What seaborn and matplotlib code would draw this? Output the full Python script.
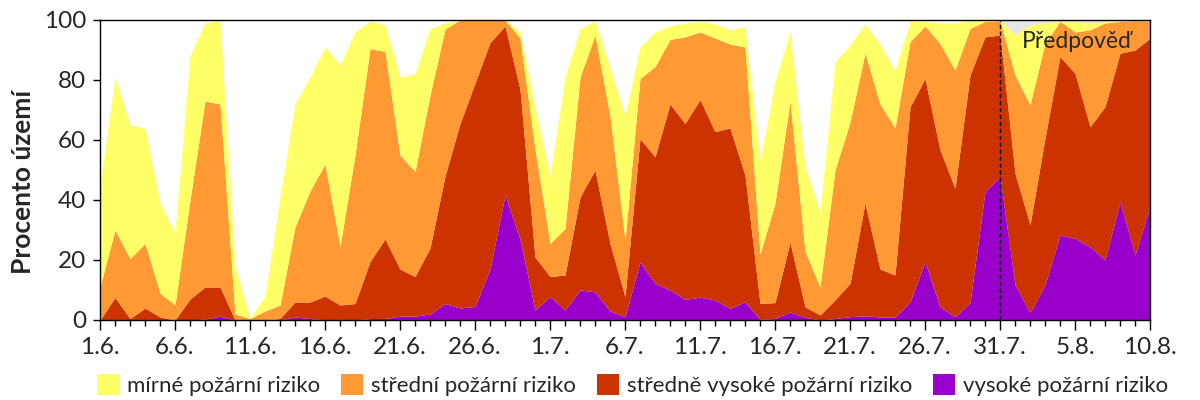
import numpy as np
import pandas as pd
import matplotlib
matplotlib.use("Agg")
import matplotlib.pyplot as plt
from matplotlib.patches import Patch
from matplotlib.ticker import MultipleLocator
import seaborn as sns

# Data: share of territory (%) per fire risk level, 1.6. - 10.8.
dates = pd.date_range("2015-06-01", "2015-08-10", freq="D")
tick_labels = ["1.6.", "6.6.", "11.6.", "16.6.", "21.6.", "26.6.", "1.7.", "6.7.",
               "11.7.", "16.7.", "21.7.", "26.7.", "31.7.", "5.8.", "10.8."]
forecast_start = "31.7."

vysoke = [0, 0, 0, 0, 0, 0, 0, 0.3, 1.3, 0,
          0, 0, 0, 1, 0.5, 0, 0.2, 0, 0.5, 0.5,
          1.3, 1.3, 2, 5.5, 4, 4.5, 17, 41.7, 27, 3.3,
          7.8, 3.3, 10, 9.4, 3, 1.1, 19.4, 12.2, 10, 6.9,
          7.6, 6.7, 3.9, 6.1, 0.2, 0.5, 2.7, 0.9, 0, 0.5,
          1.1, 1.4, 1, 0.9, 6.1, 19.4, 4.4, 1.1, 5.8, 42.8,
          47.8, 11.7, 2.4, 11.7, 28.3, 27.2, 24.4, 20, 39.4, 21.7,
          37.8]
stredne_vysoke = [0, 7.5, 0.5, 4, 1, 0, 7, 10.7, 9.7, 0,
                  0, 0, 0.5, 5, 5.5, 8, 4.8, 5.5, 19, 26.5,
                  15.7, 13.2, 22, 42.5, 61.5, 74.5, 75.5, 56.3, 50, 17.7,
                  6.7, 11.7, 31, 40.6, 22.5, 6.7, 41.1, 42.2, 62, 58.6,
                  65.9, 56.1, 60.1, 42.2, 5.3, 5.3, 23.3, 3.5, 1.7, 6.2,
                  11.1, 37.6, 16, 14.1, 64.9, 61.1, 52.3, 42.8, 75.9, 51.6,
                  47.2, 37.2, 29.3, 48.9, 59.5, 55, 40, 51.1, 49.5, 68.3,
                  56.1]
stredni = [11, 22.5, 20, 21.5, 8, 5, 33, 62, 61, 2,
           0.5, 3, 4.5, 25, 37, 44, 19.5, 49.5, 71, 62.5,
           38, 35, 51, 49, 34.5, 21, 7.5, 2, 17, 36,
           11, 15.5, 40, 45, 42.5, 18.9, 20, 30.1, 21.5, 28.9,
           22.5, 31.2, 28, 42.7, 16.5, 33.2, 47, 18.6, 9.3, 43.3,
           53.8, 50, 55, 49, 21.8, 17.5, 35.5, 39.4, 15.5, 5.1,
           4.7, 32.8, 40, 31.6, 11.7, 13.8, 32.3, 27.9, 10.6, 9.7,
           5.8]
mirne = [34, 51, 44.5, 38.5, 30, 24, 48, 26, 28, 16,
         0, 5, 36, 41, 38, 39, 60.5, 41, 9.2, 8.8,
         26, 32.5, 22, 2, 0, 0, 0, 0, 2, 14,
         22.5, 50.5, 16, 4.7, 16, 41.3, 10.5, 11.5, 4.5, 4.6,
         3.5, 4.7, 4.7, 6.8, 31, 40.5, 23, 28, 25, 36,
         25.7, 9.7, 20, 19, 6.7, 1.5, 6.8, 15.7, 2.8, 0.5,
         0.3, 13.3, 26.6, 6.8, 0, 3.5, 2.3, 0.5, 0, 0,
         0.3]

labels = ["mírné požární riziko", "střední požární riziko",
          "středně vysoké požární riziko", "vysoké požární riziko"]
colors = ["#FFFF66", "#FF9933", "#CC3300", "#9900CC"]

sns.set_style("ticks")
plt.rcParams["font.family"] = ["Lato", "DejaVu Sans"]

x = np.arange(len(dates))
day_labels = [f"{d.day}.{d.month}." for d in dates]
fc = day_labels.index(forecast_start)

fig = plt.figure(figsize=(12, 4), dpi=100)
ax = fig.add_axes([100 / 1200, 80 / 400, 1050 / 1200, 300 / 400])

# forecast background
ax.axvspan(fc, x[-1], color="#E6E6E6", lw=0, zorder=0)
ax.stackplot(x, vysoke, stredne_vysoke, stredni, mirne,
             colors=colors[::-1], lw=0, zorder=1)
ax.axvline(fc, color="black", lw=1, ls=(0, (3, 2)), zorder=3)
ax.text(fc + 1.45, 93, "Předpověď", fontsize=16.5, va="center", ha="left", zorder=4)

ax.set_xlim(x[0], x[-1])
ax.set_ylim(0, 100)
ax.set_xticks(x[::5])
ax.set_xticklabels(tick_labels)
ax.xaxis.set_minor_locator(MultipleLocator(1))
ax.set_yticks(range(0, 101, 20))
ax.tick_params(axis="both", which="major", labelsize=17.5, direction="out",
               length=7, width=1, color="black", pad=5)
ax.tick_params(axis="x", which="minor", direction="out", length=4, width=1, color="black")
ax.tick_params(axis="y", length=5)
for s in ax.spines.values():
    s.set_color("black")
    s.set_linewidth(1)
ax.spines["top"].set_zorder(5)
ax.set_ylabel("Procento území", fontsize=19, fontweight="bold")
ax.yaxis.set_label_coords(-0.062, 0.46)

handles = [Patch(facecolor=c, edgecolor="none") for c in colors]
fig.legend(handles, labels, loc="center", bbox_to_anchor=(0.527, 0.037), ncol=4,
           frameon=False, fontsize=16, handlelength=1.0, handleheight=1.05,
           handletextpad=0.35, columnspacing=0.95, borderaxespad=0)

fig.savefig("out.png", dpi=100)
